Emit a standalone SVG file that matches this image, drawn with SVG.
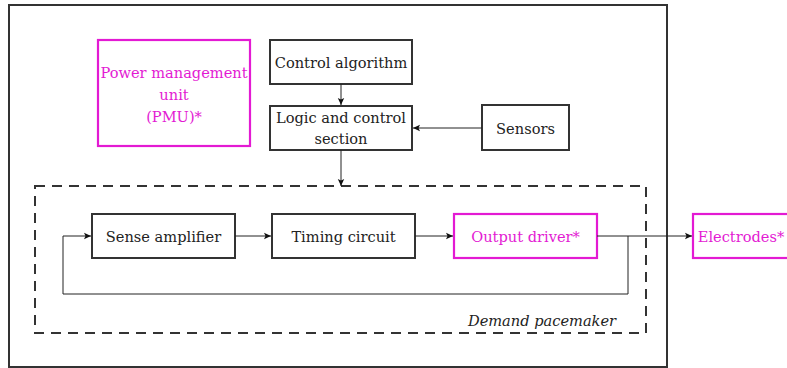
<svg xmlns="http://www.w3.org/2000/svg" width="787" height="368" viewBox="0 0 787 368">
<style>
.box{fill:#fff;stroke:#333;stroke-width:2}
.mbox{fill:#fff;stroke:#e31ad3;stroke-width:2.2}
.mt{fill:#e31ad3}
.c{fill:none;stroke:#222;stroke-width:1}
</style>
<defs>
<marker id="a" markerWidth="8" markerHeight="8" refX="7" refY="4" orient="auto" markerUnits="userSpaceOnUse">
<path d="M0,0.8 L7,4 L0,7.2 L1.5,4 Z" fill="#111"/>
</marker>
</defs>
<rect x="0" y="0" width="787" height="368" fill="#fff"/>
<g font-family="DejaVu Serif, serif" font-size="14.6" fill="#222" text-anchor="middle">
<g id="outer"><rect x="9" y="5" width="658" height="362" fill="none" stroke="#333" stroke-width="2"/></g>
<g id="demand"><rect x="35" y="186" width="611" height="147" fill="none" stroke="#333" stroke-width="2" stroke-dasharray="10 7"/>
<text x="542" y="326" font-style="italic">Demand pacemaker</text></g>
<g id="pmu"><rect class="mbox" x="98" y="40" width="152" height="106"/>
<text class="mt" x="174" y="78">Power management</text>
<text class="mt" x="174" y="100">unit</text>
<text class="mt" x="174" y="122">(PMU)*</text></g>
<g id="control"><rect class="box" x="270" y="40" width="142" height="44"/>
<text x="341" y="68">Control algorithm</text></g>
<g id="logic"><rect class="box" x="270" y="106" width="142" height="44"/>
<text x="341" y="123">Logic and control</text>
<text x="341" y="144">section</text></g>
<g id="sensors"><rect class="box" x="482" y="105" width="87" height="45"/>
<text x="525.5" y="134">Sensors</text></g>
<g id="sense"><rect class="box" x="92" y="214" width="143" height="44"/>
<text x="163.5" y="242">Sense amplifier</text></g>
<g id="timing"><rect class="box" x="272" y="214" width="143" height="44"/>
<text x="343.5" y="242">Timing circuit</text></g>
<g id="output"><rect class="mbox" x="454" y="214" width="143" height="44"/>
<text class="mt" x="525.5" y="242">Output driver*</text></g>
<g id="electrodes"><rect class="mbox" x="693" y="214" width="110" height="44"/>
<text class="mt" x="741" y="242">Electrodes*</text></g>
</g>
<g id="connectors">
<path class="c" d="M341,84 V105" marker-end="url(#a)"/>
<path class="c" d="M482,128 H413" marker-end="url(#a)"/>
<path class="c" d="M341,150 V186" marker-end="url(#a)"/>
<path class="c" d="M235,236 H271" marker-end="url(#a)"/>
<path class="c" d="M415,236 H453" marker-end="url(#a)"/>
<path class="c" d="M597,236 H692" marker-end="url(#a)"/>
<path class="c" d="M628,236 V294 H63 V236 H91" marker-end="url(#a)"/>
</g>
</svg>
